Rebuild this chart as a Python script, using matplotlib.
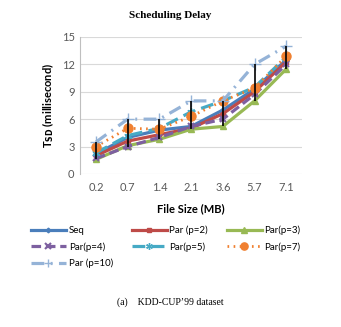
import matplotlib.pyplot as plt
import numpy as np

plt.rcParams['font.family'] = ['Lato', 'DejaVu Sans']

sizes = ["0.2", "0.7", "1.4", "2.1", "3.6", "5.7", "7.1"]
seq = [2.2, 4.0, 4.8, 5.2, 7.0, 9.3, 12.5]
par2 = [2.0, 3.6, 4.3, 5.0, 6.6, 9.0, 12.3]
par3 = [1.6, 3.1, 3.8, 4.9, 5.2, 8.0, 11.5]
par4 = [1.7, 3.0, 4.0, 5.2, 6.0, 8.7, 12.0]
par5 = [2.3, 4.2, 5.0, 6.8, 8.0, 9.5, 12.8]
par7 = [3.0, 5.0, 4.9, 6.3, 8.0, 9.4, 12.9]
par10 = [3.5, 6.0, 6.0, 8.0, 8.0, 12.0, 14.0]
err_low = [1.6, 3.0, 3.8, 4.9, 5.2, 8.0, 11.5]
err_high = [3.5, 6.0, 6.0, 8.0, 8.0, 12.0, 14.0]

x = np.arange(len(sizes))

fig = plt.figure(figsize=(3.41, 3.27), dpi=100)
ax = fig.add_axes([0.235, 0.468, 0.651, 0.419])

gray = "#595959"
ax.plot(x, seq, color="#4A7EBB", lw=2.3, marker="D", ms=3, label="Seq")
ax.plot(x, par2, color="#BE4B48", lw=2.3, marker="s", ms=3.5, label="Par (p=2)")
ax.plot(x, par3, color="#98B954", lw=2.3, marker="^", ms=5, label="Par(p=3)")
ax.plot(x, par4, color="#7D60A0", lw=2.3, ls=(0, (3, 1.5)), marker="x", ms=5,
        mew=1.5, label="Par(p=4)")
ax.plot(x, par5, color="#46AAC5", lw=2.3, ls=(0, (4, 2)), marker=(6, 2, 0), ms=6,
        mew=1, label="Par(p=5)")
ax.plot(x, par7, color="#F08030", lw=2.0, ls=(0, (0.6, 1.6)), marker="o", ms=6.5,
        label="Par(p=7)")
ax.plot(x, par10, color="#95B3D7", lw=2.3, ls=(0, (4, 2, 0.6, 2)), marker="+", ms=8,
        mew=1, label="Par (p=10)")
ax.vlines(x, err_low, err_high, color="black", lw=1.2, zorder=5)

ax.set_xlim(-0.5, len(sizes) - 0.5)
ax.set_ylim(0, 15)
ax.set_yticks([0, 3, 6, 9, 12, 15])
ax.set_xticks(x)
ax.set_xticklabels(sizes)
ax.grid(axis="y", color="#D9D9D9", lw=0.8)
ax.set_axisbelow(True)
for s in ["top", "right", "bottom"]:
    ax.spines[s].set_visible(False)
ax.spines["left"].set_color("#BFBFBF")
ax.tick_params(axis="both", length=0, labelsize=8, colors=gray, pad=6)
ax.tick_params(axis="y", pad=4)

ax.set_xlabel("File Size (MB)", fontsize=8, fontweight="bold", labelpad=7)
ax.set_ylabel(r"T$_{\mathbf{SD}}$ (millisecond)", fontsize=8, fontweight="bold", labelpad=4)

fig.text(0.5, 0.953, "Scheduling Delay", ha="center", va="center",
         family="Liberation Serif", fontweight="bold", fontsize=8)
fig.text(0.5, 0.077, "(a)    KDD-CUP\u201999 dataset", ha="center", va="center",
         family="Liberation Serif", fontsize=7)

# legend filled row by row like the original
handles, labels = ax.get_legend_handles_labels()
order = [0, 3, 6, 1, 4, 2, 5]
fig.legend([handles[i] for i in order], [labels[i] for i in order],
           loc="upper left", bbox_to_anchor=(0.065, 0.336), ncol=3, frameon=False,
           fontsize=7, handlelength=3.6, columnspacing=1.9, labelspacing=0.7,
           handletextpad=0.3, markerscale=0.8)

fig.savefig("out.png", dpi=100)
